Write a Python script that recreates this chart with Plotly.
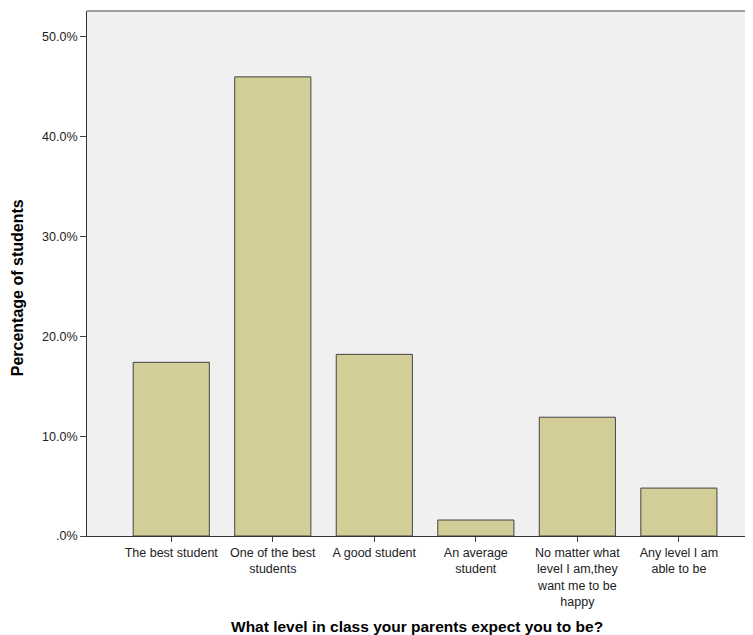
import plotly.graph_objects as go

categories = [
    "The best student",
    "One of the best<br>students",
    "A good student",
    "An average<br>student",
    "No matter what<br>level I am,they<br>want me to be<br>happy",
    "Any level I am<br>able to be",
]
percentages = [17.4, 46.0, 18.2, 1.6, 11.9, 4.8]
y_tick_values = [0, 10, 20, 30, 40, 50]
y_tick_labels = [".0%", "10.0%", "20.0%", "30.0%", "40.0%", "50.0%"]

x_pos = list(range(len(categories)))
FONT = "Liberation Sans, Arial, sans-serif"

fig = go.Figure()
fig.add_trace(go.Bar(
    x=x_pos,
    y=percentages,
    width=0.75,
    marker=dict(color="#D3CE97", line=dict(color="#444444", width=1)),
    hoverinfo="y",
))

fig.update_layout(
    width=745,
    height=627,
    margin=dict(l=79, r=0, t=3, b=99),
    paper_bgcolor="white",
    plot_bgcolor="#F0F0F0",
    showlegend=False,
    font=dict(family=FONT, size=12, color="#222222"),
    xaxis=dict(
        range=[-0.83, 5.73],
        tickmode="array",
        tickvals=x_pos,
        ticktext=categories,
        ticks="outside",
        ticklen=5,
        tickcolor="#444444",
        showline=True,
        linecolor="#333333",
        linewidth=1,
        showgrid=False,
        zeroline=False,
        tickfont=dict(size=12.5, color="#222222"),
    ),
    yaxis=dict(
        range=[0, 52.6],
        tickmode="array",
        tickvals=y_tick_values,
        ticktext=y_tick_labels,
        ticks="outside",
        ticklen=6,
        tickcolor="#444444",
        showline=True,
        linecolor="#333333",
        linewidth=1,
        showgrid=False,
        zeroline=False,
        tickfont=dict(size=12.5, color="#222222"),
    ),
    shapes=[
        dict(type="line", xref="paper", yref="paper", x0=0, x1=1, y0=1, y1=1,
             line=dict(color="#808080", width=1.5)),
    ],
    annotations=[
        dict(text="<b>Percentage of students</b>", xref="paper", yref="paper",
             x=-0.105, y=0.472, xanchor="center", yanchor="middle", textangle=-90,
             showarrow=False, font=dict(size=16, color="#000000", family=FONT)),
        dict(text="<b>What level in class your parents expect you to be?</b>", xref="paper",
             yref="paper", x=0.4955, y=-0.173, xanchor="center", yanchor="middle",
             showarrow=False, font=dict(size=15.5, color="#000000", family=FONT)),
    ],
)

fig.write_html("out.html")
